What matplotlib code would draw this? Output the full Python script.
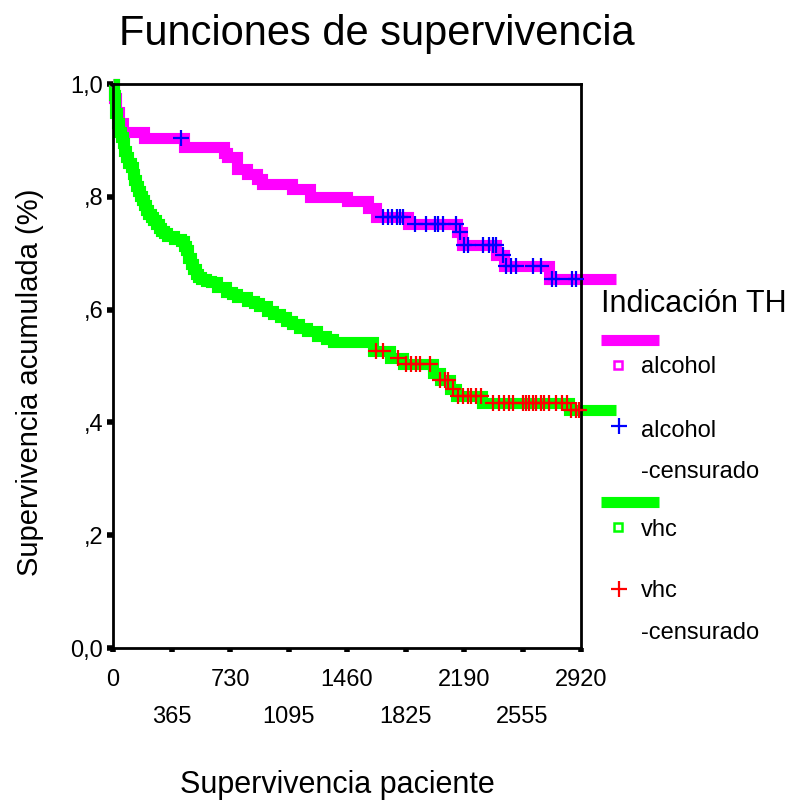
import matplotlib
matplotlib.use("Agg")
import matplotlib.pyplot as plt
import numpy as np
from matplotlib.lines import Line2D

plt.rcParams['font.family'] = ['Liberation Sans', 'DejaVu Sans']

# Kaplan-Meier steps (days, cumulative survival)
alc_t = [0, 8, 20, 35, 60, 194, 440, 692, 712, 775, 837, 899, 930, 1116, 1230,
         1458, 1593, 1644, 1839, 2144, 2175, 2392, 2442, 2721]
alc_s = [1.0, 0.975, 0.95, 0.93, 0.915, 0.905, 0.888, 0.878, 0.870, 0.850, 0.840,
         0.832, 0.822, 0.813, 0.800, 0.792, 0.780, 0.765, 0.752, 0.737, 0.715,
         0.697, 0.678, 0.655]
alc_cens = [422, 1686, 1717, 1738, 1769, 1789, 1810, 1883, 1955, 2007, 2027, 2058,
            2141, 2162, 2193, 2214, 2307, 2349, 2369, 2390, 2431, 2452, 2483, 2514,
            2618, 2670, 2742, 2763, 2866, 2887]

vhc_t = [0, 5, 10, 15, 25, 35, 50, 60, 70, 81, 95, 112, 122, 133, 143, 153, 170,
         184, 195, 205, 220, 236, 250, 267, 285, 298, 320, 340, 380, 422, 440, 454,
         470, 485, 500, 516, 530, 547, 580, 609, 650, 702, 740, 775, 837, 880, 909,
         961, 1000, 1044, 1080, 1116, 1160, 1210, 1272, 1330, 1375, 1620, 1727,
         1808, 1994, 2038, 2100, 2143, 2305, 2846]
vhc_s = [1.0, 0.98, 0.96, 0.948, 0.93, 0.915, 0.906, 0.895, 0.882, 0.870, 0.860,
         0.852, 0.840, 0.829, 0.820, 0.811, 0.802, 0.794, 0.785, 0.776, 0.770,
         0.764, 0.758, 0.752, 0.745, 0.740, 0.735, 0.731, 0.725, 0.722, 0.712,
         0.705, 0.692, 0.681, 0.672, 0.663, 0.658, 0.654, 0.651, 0.649, 0.640,
         0.631, 0.627, 0.622, 0.616, 0.612, 0.607, 0.598, 0.592, 0.586, 0.580,
         0.574, 0.568, 0.562, 0.553, 0.548, 0.542, 0.527, 0.515, 0.504, 0.488,
         0.475, 0.459, 0.447, 0.435, 0.422]
vhc_cens = [1644, 1686, 1779, 1831, 1862, 1893, 1914, 1976, 2038, 2069, 2090, 2121,
            2152, 2183, 2214, 2235, 2266, 2297, 2369, 2411, 2442, 2473, 2494, 2556,
            2577, 2597, 2618, 2639, 2670, 2690, 2721, 2763, 2804, 2835, 2856, 2887,
            2908]
t_end = 3138

major_ticks = [0, 730, 1460, 2190, 2920]
minor_ticks = [365, 1095, 1825, 2555]
y_ticks = [0.0, 0.2, 0.4, 0.6, 0.8, 1.0]
y_labels = ['0,0', ',2', ',4', ',6', ',8', '1,0']

W, H = 796, 808


def fx(px):
    return px / W


def fy(py):
    return 1 - py / H


fig = plt.figure(figsize=(W / 100, H / 100), dpi=100)
ax = fig.add_axes([fx(113), fy(648), fx(581) - fx(113), fy(84) - fy(648)])


def km_curve(t, s, cens, col, ccol):
    tt = np.append(t, t_end)
    ss = np.append(s, s[-1])
    ax.step(tt, ss, where='post', color=col, lw=8, solid_capstyle='butt',
            solid_joinstyle='miter', clip_on=False, zorder=2)
    idx = np.searchsorted(t, cens, side='right') - 1
    ax.plot(cens, np.array(s)[idx], '+', color=ccol, ms=11, mew=1.6,
            clip_on=False, zorder=3)


km_curve(alc_t, alc_s, alc_cens, '#ff00ff', '#0000ff')
km_curve(vhc_t, vhc_s, vhc_cens, '#00ff00', '#ff0000')

ax.set_xlim(0, 2920)
ax.set_ylim(0, 1)
for sp in ax.spines.values():
    sp.set_linewidth(2)
ax.set_xticks(major_ticks, [str(v) for v in major_ticks])
ax.set_xticks(minor_ticks, [str(v) for v in minor_ticks], minor=True)
ax.set_yticks(y_ticks, y_labels)
ax.tick_params(axis='x', which='major', length=3, width=4, pad=12, labelsize=17)
ax.tick_params(axis='x', which='minor', length=3, width=4, pad=39, labelsize=17)
ax.tick_params(axis='y', length=4, width=4, pad=3, labelsize=17)

fig.text(fx(377), fy(34), 'Funciones de supervivencia', ha='center', va='center',
         fontsize=30)
fig.text(fx(30), fy(382), 'Supervivencia acumulada (%)', ha='center', va='center',
         rotation=90, fontsize=21)
fig.text(fx(337), fy(785), 'Supervivencia paciente', ha='center', va='center',
         fontsize=22)

# legend drawn by hand, SPSS style
fig.text(fx(601), fy(304), 'Indicación TH', ha='left', va='center', fontsize=22)
leg = [
    ('bar', '#ff00ff', 340),
    ('sq', '#ff00ff', 365),
    ('plus', '#0000ff', 426),
    ('bar', '#00ff00', 502),
    ('sq', '#00ff00', 527),
    ('plus', '#ff0000', 589),
]
for kind, col, py in leg:
    if kind == 'bar':
        fig.add_artist(Line2D([fx(601), fx(659)], [fy(py), fy(py)], color=col,
                              lw=8, solid_capstyle='butt'))
    elif kind == 'sq':
        fig.add_artist(Line2D([fx(618)], [fy(py)], marker='s', ms=6, mfc='white',
                              mec=col, mew=1.8, ls='none'))
    else:
        fig.add_artist(Line2D([fx(619)], [fy(py)], marker='+', ms=11, mew=1.6,
                              color=col, ls='none'))

for txt, py in [('alcohol', 367), ('alcohol', 431), ('-censurado', 472),
                ('vhc', 530), ('vhc', 591), ('-censurado', 633)]:
    fig.text(fx(641), fy(py), txt, ha='left', va='center', fontsize=17)

fig.savefig('out.png', dpi=100)
